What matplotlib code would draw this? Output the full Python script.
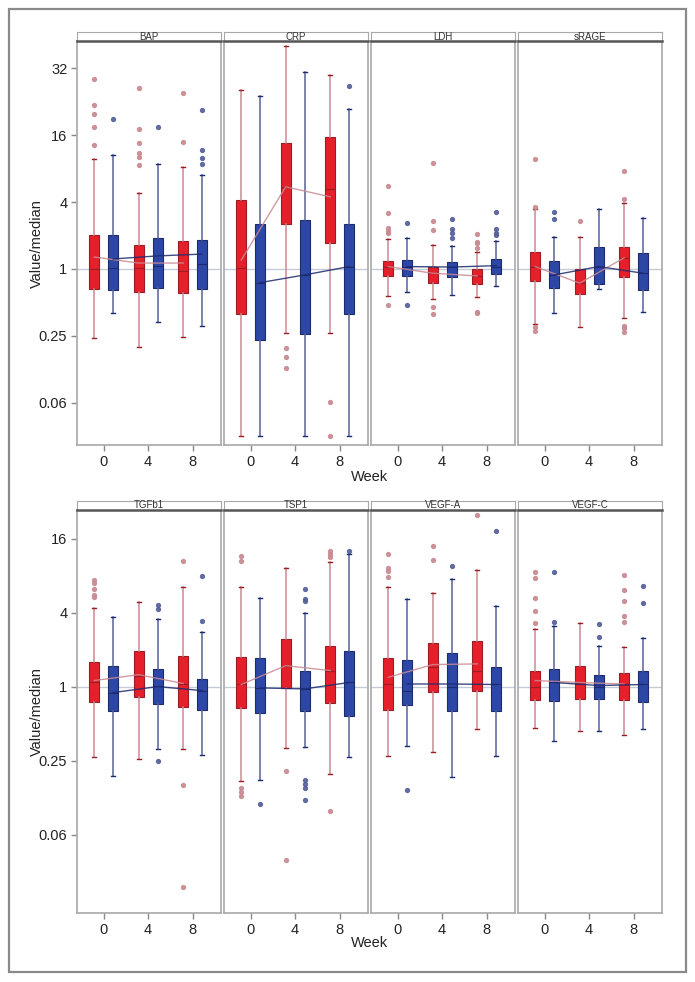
import numpy as np
import matplotlib
matplotlib.use('Agg')
import matplotlib.pyplot as plt
from matplotlib.patches import Rectangle

plt.rcParams['font.family'] = ['Liberation Sans', 'DejaVu Sans']

weeks = [0, 4, 8]
top_markers = ['BAP', 'CRP', 'LDH', 'sRAGE']
bottom_markers = ['TGFb1', 'TSP1', 'VEGF-A', 'VEGF-C']

# red group (value/median), one entry per week 0, 4, 8
red_med = {'BAP': [0.99, 1.03, 0.95], 'CRP': [1.02, 5.49, 5.24], 'LDH': [1.05, 0.915, 0.865],
           'sRAGE': [1.05, 0.744, 1.26], 'TGFb1': [1.09, 1.21, 1.05], 'TSP1': [1.04, 1.48, 1.35],
           'VEGF-A': [1.05, 1.44, 1.33], 'VEGF-C': [0.987, 1.05, 1.04]}
red_q1 = {'BAP': [0.66, 0.62, 0.61], 'CRP': [0.394, 2.52, 1.72], 'LDH': [0.865, 0.748, 0.738],
          'sRAGE': [0.78, 0.596, 0.853], 'TGFb1': [0.745, 0.818, 0.688], 'TSP1': [0.666, 0.976, 0.731],
          'VEGF-A': [0.646, 0.906, 0.923], 'VEGF-C': [0.774, 0.794, 0.78]}
red_q3 = {'BAP': [2.01, 1.64, 1.78], 'CRP': [4.17, 13.6, 15.3], 'LDH': [1.17, 1.04, 0.99],
          'sRAGE': [1.43, 0.99, 1.58], 'TGFb1': [1.59, 1.96, 1.78], 'TSP1': [1.75, 2.43, 2.13],
          'VEGF-A': [1.71, 2.25, 2.35], 'VEGF-C': [1.35, 1.46, 1.29]}
red_lo = {'BAP': [0.24, 0.20, 0.243], 'CRP': [0.0316, 0.264, 0.264], 'LDH': [0.568, 0.537, 0.56],
          'sRAGE': [0.322, 0.297, 0.365], 'TGFb1': [0.268, 0.256, 0.313], 'TSP1': [0.169, 0.315, 0.195],
          'VEGF-A': [0.27, 0.292, 0.455], 'VEGF-C': [0.458, 0.433, 0.4]}
red_hi = {'BAP': [9.74, 4.79, 8.3], 'CRP': [40.6, 101, 55.7], 'LDH': [1.85, 1.63, 1.43],
          'sRAGE': [3.44, 1.95, 3.89], 'TGFb1': [4.39, 4.89, 6.51], 'TSP1': [6.51, 9.24, 10.4],
          'VEGF-A': [6.51, 5.78, 8.9], 'VEGF-C': [2.96, 3.3, 2.1]}
red_mean = {'BAP': [1.28, 1.13, 1.13], 'CRP': [1.2, 5.49, 4.46], 'LDH': [1.05, 0.915, 0.865],
            'sRAGE': [1.05, 0.744, 1.26], 'TGFb1': [1.12, 1.25, 1.06], 'TSP1': [1.04, 1.48, 1.35],
            'VEGF-A': [1.19, 1.51, 1.53], 'VEGF-C': [1.12, 1.08, 1.05]}
red_out = {'BAP': [[51, 29.8, 24.7, 18.9, 13.0], [42.6, 18.2, 13.6, 11.1, 10.2, 8.6], [38.7, 13.9]],
           'CRP': [[], [0.194, 0.161, 0.128], [0.0634, 0.0316]],
           'LDH': [[5.57, 3.21, 2.32, 2.2, 2.09, 0.472], [9.02, 2.72, 2.24, 0.456, 0.392],
                   [2.06, 1.75, 1.7, 1.55, 0.413, 0.4]],
           'sRAGE': [[9.68, 3.63, 0.303, 0.279], [2.72], [7.6, 4.23, 0.308, 0.293, 0.273]],
           'TGFb1': [[7.42, 6.93, 6.19, 5.57, 5.37], [], [10.5, 0.157, 0.0234]],
           'TSP1': [[11.6, 10.6, 0.15, 0.138, 0.128], [0.205, 0.0385], [12.6, 12.0, 11.4, 0.0967]],
           'VEGF-A': [[11.9, 9.17, 8.79, 7.75], [14.0, 10.8], [25.0]],
           'VEGF-C': [[8.51, 7.6, 5.27, 4.1, 3.27], [], [8.05, 6.12, 5.01, 3.78, 3.34]]}

# blue group
blue_med = {'BAP': [1.03, 1.07, 1.10], 'CRP': [0.753, 0.883, 1.05], 'LDH': [1.05, 1.04, 1.05],
            'sRAGE': [0.883, 1.05, 0.915], 'TGFb1': [0.894, 1.02, 0.916], 'TSP1': [0.976, 0.958, 1.08],
            'VEGF-A': [0.928, 0.987, 1.04], 'VEGF-C': [1.08, 1.0, 1.04]}
blue_q1 = {'BAP': [0.648, 0.679, 0.665], 'CRP': [0.227, 0.26, 0.394], 'LDH': [0.86, 0.853, 0.907],
           'sRAGE': [0.679, 0.738, 0.643], 'TGFb1': [0.63, 0.718, 0.641], 'TSP1': [0.614, 0.638, 0.581],
           'VEGF-A': [0.705, 0.63, 0.63], 'VEGF-C': [0.765, 0.788, 0.755]}
blue_q3 = {'BAP': [2.02, 1.9, 1.82], 'CRP': [2.52, 2.74, 2.55], 'LDH': [1.21, 1.16, 1.23],
           'sRAGE': [1.19, 1.58, 1.38], 'TGFb1': [1.47, 1.38, 1.16], 'TSP1': [1.71, 1.35, 1.95],
           'VEGF-A': [1.66, 1.86, 1.44], 'VEGF-C': [1.38, 1.24, 1.35]}
blue_lo = {'BAP': [0.405, 0.336, 0.308], 'CRP': [0.0316, 0.0316, 0.0316], 'LDH': [0.617, 0.58, 0.7],
           'sRAGE': [0.4, 0.661, 0.408], 'TGFb1': [0.188, 0.313, 0.275], 'TSP1': [0.174, 0.325, 0.268],
           'VEGF-A': [0.329, 0.185, 0.27], 'VEGF-C': [0.359, 0.439, 0.453]}
blue_hi = {'BAP': [10.6, 8.78, 7.0], 'CRP': [35.9, 59.3, 27.8], 'LDH': [1.9, 1.6, 1.8],
           'sRAGE': [1.95, 3.48, 2.87], 'TGFb1': [3.66, 3.56, 2.77], 'TSP1': [5.27, 3.95, 11.9],
           'VEGF-A': [5.2, 7.56, 4.56], 'VEGF-C': [3.14, 2.12, 2.49]}
blue_mean = {'BAP': [1.23, 1.31, 1.36], 'CRP': [0.753, 0.883, 1.05], 'LDH': [1.05, 1.04, 1.07],
             'sRAGE': [0.883, 1.05, 0.915], 'TGFb1': [0.894, 1.0, 0.928], 'TSP1': [0.976, 0.958, 1.08],
             'VEGF-A': [1.05, 1.05, 1.04], 'VEGF-C': [1.08, 1.02, 1.04]}
blue_out = {'BAP': [[22.4], [19.0], [26.8, 11.7, 9.88, 8.83]],
            'CRP': [[], [], [44.4]],
            'LDH': [[2.61, 0.478], [2.8, 2.27, 2.09, 1.89], [3.25, 2.3, 2.09, 2.02]],
            'sRAGE': [[3.25, 2.8], [], []],
            'TGFb1': [[], [4.59, 4.25, 0.25], [7.9, 3.42]],
            'TSP1': [[0.111], [6.24, 5.17, 4.94, 0.174, 0.16, 0.15, 0.12], [12.6]],
            'VEGF-A': [[0.145], [9.52], [18.6]],
            'VEGF-C': [[8.51, 3.38], [3.24, 2.52], [6.63, 4.76]]}

# axis ticks (the top tick is printed as 32 in the source)
top_ticks = [1/16, 1/4, 1, 4, 16, 64]
top_ticklabels = ['0.06', '0.25', '1', '4', '16', '32']
bottom_ticks = [1/16, 1/4, 1, 4, 16]
bottom_ticklabels = ['0.06', '0.25', '1', '4', '16']

RED, RED_EDGE, RED_LINE = '#e5202b', '#9c1c24', '#c98a92'
BLUE, BLUE_EDGE, BLUE_LINE = '#2d47a6', '#1c2a6e', '#56619a'
W, H = 695, 982


def stats(marker, med, q1, q3, lo, hi, out):
    return [dict(med=med[marker][i], q1=q1[marker][i], q3=q3[marker][i],
                 whislo=lo[marker][i], whishi=hi[marker][i], fliers=out[marker][i])
            for i in range(len(weeks))]


def draw_panel(ax, marker):
    ax.axhline(1, color='#c3ccd6', lw=1, zorder=0)
    for st, face, edge, line, off, means in [
            (stats(marker, red_med, red_q1, red_q3, red_lo, red_hi, red_out), RED, RED_EDGE, RED_LINE, -0.85, red_mean),
            (stats(marker, blue_med, blue_q1, blue_q3, blue_lo, blue_hi, blue_out), BLUE, BLUE_EDGE, BLUE_LINE, 0.85, blue_mean)]:
        pos = np.array(weeks) + off
        ax.bxp(st, positions=pos, widths=0.9, patch_artist=True, capwidths=0.35,
               boxprops=dict(facecolor=face, edgecolor=edge, lw=0.8),
               medianprops=dict(color=edge, lw=0.8),
               whiskerprops=dict(color=line, lw=1.1),
               capprops=dict(color=edge, lw=1.0),
               flierprops=dict(marker='o', markersize=2.8, markerfacecolor=line,
                               markeredgecolor=line, alpha=0.9),
               manage_ticks=False, zorder=2)
        ax.plot(pos, means[marker], color=line if face == RED else BLUE_EDGE,
                lw=1.0, zorder=3, alpha=0.85)


fig = plt.figure(figsize=(W / 100, H / 100), dpi=100)
fig.patches.append(Rectangle((9 / W, 1 - 972 / H), 677 / W, 963 / H, transform=fig.transFigure,
                             fill=False, edgecolor='#8a8a8a', lw=1.6))

lefts = [77, 224, 371, 518]
rows = [(top_markers, 41.3, 445, 32.3, top_ticks, top_ticklabels, (0.026, 112), 477),
        (bottom_markers, 509.7, 913.3, 500.7, bottom_ticks, bottom_ticklabels, (0.0143, 27.5), 943)]

for markers, ytop, ybot, htop, ticks, ticklabels, ylim, week_y in rows:
    for j, marker in enumerate(markers):
        ax = fig.add_axes([lefts[j] / W, 1 - ybot / H, 144 / W, (ybot - ytop) / H])
        draw_panel(ax, marker)
        ax.set_yscale('log', base=2)
        ax.set_ylim(*ylim)
        ax.set_xlim(-2.4, 10.55)
        ax.set_xticks(weeks)
        ax.set_xticklabels([str(w) for w in weeks])
        ax.minorticks_off()
        ax.set_yticks(ticks)
        if j == 0:
            ax.set_yticklabels(ticklabels)
        else:
            ax.tick_params(axis='y', left=False, labelleft=False)
        ax.tick_params(colors='#888888', labelcolor='#222222', labelsize=10.5, length=4, width=1, pad=3)
        for s in ax.spines.values():
            s.set_color('#a8a8a8')
            s.set_linewidth(1.2)

        hx = fig.add_axes([lefts[j] / W, 1 - ytop / H, 144 / W, (ytop - htop) / H])
        hx.set_xticks([])
        hx.set_yticks([])
        for s in hx.spines.values():
            s.set_color('#a8a8a8')
        hx.spines['bottom'].set_color('#555555')
        hx.spines['bottom'].set_linewidth(1.8)
        hx.text(0.5, 0.2, marker, ha='center', va='baseline', fontsize=7, color='#333333',
                transform=hx.transAxes)

    fig.text(369.5 / W, 1 - week_y / H, 'Week', ha='center', va='center', fontsize=10.5, color='#222222')
    fig.text(37 / W, 1 - (ytop + ybot) / 2 / H, 'Value/median', rotation=90, ha='center',
             va='center', fontsize=10.5, color='#222222')

fig.savefig('out.png', dpi=100)
